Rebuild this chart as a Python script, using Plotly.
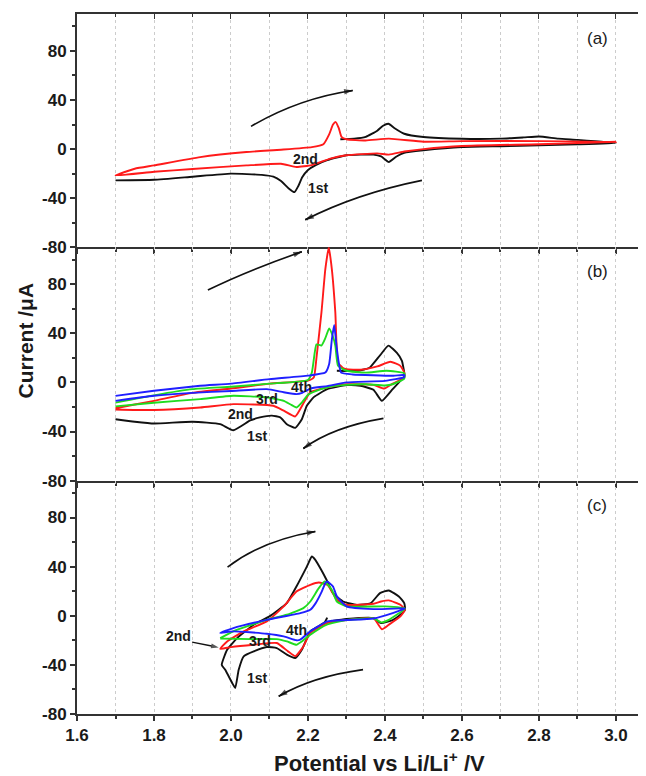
import plotly.graph_objects as go
from plotly.subplots import make_subplots

FONT = "Arial, Liberation Sans, sans-serif"

# ---------------- data (potential V, current uA) ----------------
# panel (a)
A1_V = [2.284, 2.32, 2.35, 2.38, 2.395, 2.409, 2.425, 2.45, 2.5, 2.6, 2.7, 2.76, 2.8, 2.85, 2.9, 3.0,
        2.9, 2.8, 2.7, 2.6, 2.5, 2.45, 2.43, 2.41, 2.39, 2.37, 2.3, 2.25, 2.22, 2.2, 2.185, 2.175,
        2.165, 2.15, 2.13, 2.11, 2.08, 2.0, 1.9, 1.8, 1.7]
A1_I = [8, 8.5, 10, 15, 19, 20.6, 17, 12.5, 9.8, 8.4, 8.5, 9.5, 10.3, 8.5, 7.5, 5,
        3.8, 3, 2.3, 1.6, -1, -3, -6, -10.5, -6, -4.5, -5, -9, -13, -17, -23, -30,
        -35, -32, -26, -22.5, -21, -20, -22.5, -25, -25.5]
A2_V = [1.7, 1.75, 1.8, 1.92, 2.04, 2.13, 2.21, 2.24, 2.255, 2.265, 2.272, 2.28, 2.287, 2.3, 2.35,
        2.41, 2.5, 2.6, 2.8, 3.0,
        2.8, 2.6, 2.5, 2.45, 2.41, 2.38, 2.3, 2.258, 2.21, 2.17, 2.13, 2.04, 1.9, 1.8, 1.7]
A2_I = [-21.5, -16, -13.3, -6.5, -2.4, -0.5, 1.6, 4, 12, 20, 22, 17, 10, 8, 7,
        8.5, 6, 6.5, 6.5, 6,
        4, 2.5, 0, -2, -4.5, -3.5, -5, -7.8, -13, -14.6, -12, -13.3, -16.2, -18.5, -21.5]

# panel (b)
B1_V = [2.275, 2.33, 2.36, 2.387, 2.409, 2.431, 2.444, 2.45, 2.45, 2.42, 2.392, 2.37, 2.336, 2.3,
        2.25, 2.215, 2.197, 2.184, 2.167, 2.145, 2.128, 2.106, 2.075, 2.05, 2.006, 1.972, 1.9,
        1.8, 1.75, 1.7]
B1_I = [9.5, 9.5, 12, 22, 30, 24, 17.6, 8, 5, -5.5, -15, -6, -2.7, -2.2,
        -5.5, -12, -19, -30, -37, -34, -28.5, -27, -28.5, -31, -39, -34, -32,
        -33.5, -32, -30]
B2_V = [1.7, 1.75, 1.8, 1.9, 2.0, 2.1, 2.2, 2.215, 2.222, 2.235, 2.245, 2.254, 2.262, 2.271, 2.278,
        2.29, 2.3, 2.336, 2.38, 2.414, 2.44, 2.45,
        2.45, 2.42, 2.398, 2.37, 2.3, 2.25, 2.206, 2.19, 2.167, 2.137, 2.11, 2.006, 1.92, 1.8, 1.7]
B2_I = [-21, -18, -15, -8.5, -5, -1, 1.5, 4, 20, 57, 92, 110, 92, 57, 16,
        12, 10.8, 10.3, 13, 16.8, 13.5, 8,
        4, -1, -5, -2, -1.5, -4, -8, -16, -27.7, -23, -19, -17.7, -20.4, -22.5, -22]
B3_V = [1.7, 1.8, 1.9, 2.0, 2.1, 2.2, 2.21, 2.214, 2.222, 2.235, 2.245, 2.255, 2.264, 2.271, 2.278,
        2.3, 2.35, 2.404, 2.45,
        2.45, 2.42, 2.4, 2.35, 2.3, 2.25, 2.22, 2.2, 2.185, 2.17, 2.155, 2.137, 2.093, 2.006, 1.92,
        1.8, 1.7]
B3_I = [-16.5, -10.5, -5.5, -3.5, -1, 2, 8, 16, 31, 30, 36, 44, 38, 30, 13.5,
        9.5, 8, 9.5, 7.5,
        3, -1.5, -2.5, -1.5, -2, -4, -7, -10, -16, -20.4, -18, -15, -12.2, -10.9, -13.6,
        -16.5, -19.5]
B4_V = [1.7, 1.8, 1.92, 2.0, 2.1, 2.2, 2.245, 2.255, 2.262, 2.268, 2.274, 2.28, 2.286, 2.316, 2.422,
        2.45,
        2.45, 2.4, 2.3, 2.25, 2.206, 2.185, 2.17, 2.137, 2.093, 2.0, 1.9, 1.8, 1.7]
B4_I = [-11, -6.8, -2.7, -1, 2.7, 5.5, 8, 15, 35, 46.7, 30, 16, 8, 6.5, 5.4,
        6,
        4.3, 1.3, 0, -3, -5, -8.5, -9.5, -8, -5.5, -7, -8.5, -10.9, -15]

# panel (c)
C1_V = [2.25, 2.243, 2.225, 2.206, 2.195, 2.184, 2.167, 2.145, 2.119, 2.093, 2.059, 2.033, 2.02,
        2.011, 2.003, 1.985, 1.976,
        1.99, 2.016, 2.059, 2.1, 2.145, 2.17, 2.197, 2.21, 2.219, 2.235, 2.248, 2.265, 2.291,
        2.327, 2.362, 2.387, 2.41, 2.436, 2.45,
        2.452, 2.44, 2.42, 2.39, 2.37, 2.3, 2.26]
C1_I = [-1.5, -5.5, -9, -12.7, -20, -27.7, -34.4, -31.7, -26.3, -25.5, -29, -33, -44,
        -58.8, -54.7, -44, -40,
        -27.7, -18.2, -7.3, -0.5, 10.3, 23.8, 40, 48.2, 45.5, 37, 29.3, 18.4, 11.6,
        8.9, 10, 18.4, 20.6, 15.7, 10.3,
        4.9, 0.8, -3.5, -6, -1.9, -2.7, -4.5]
C2_V = [1.972, 1.99, 2.033, 2.093, 2.137, 2.17, 2.206, 2.228, 2.251, 2.262, 2.275, 2.3, 2.37,
        2.39, 2.41, 2.44, 2.452,
        2.44, 2.41, 2.392, 2.37, 2.3, 2.249, 2.206, 2.188, 2.167, 2.148, 2.119, 2.059, 2.0, 1.972]
C2_I = [-27, -20.9, -12.7, -4.6, 7.6, 19.8, 25.2, 27.1, 25, 19.8, 13, 8.9, 9.8,
        11.6, 12.5, 9, 5,
        -0.5, -7.3, -11, -2, -3.5, -6, -14, -25, -33, -29, -22.2, -23.6, -25.5, -27]
C3_V = [1.972, 2.006, 2.093, 2.145, 2.188, 2.206, 2.228, 2.243, 2.262, 2.275, 2.3, 2.4, 2.452,
        2.41, 2.39, 2.37, 2.3, 2.249, 2.206, 2.184, 2.17, 2.145, 2.119, 2.05, 1.972]
C3_I = [-18.2, -12.7, -3.3, 0.8, 6.2, 11.6, 22.5, 27.9, 21, 11.6, 7.6, 7.6, 6,
        -3.3, -5.4, -2, -3.5, -7.3, -15.5, -20.9, -23.6, -20.9, -19, -19, -18.5]
C4_V = [1.972, 2.006, 2.093, 2.18, 2.206, 2.22, 2.236, 2.245, 2.25, 2.265, 2.275, 2.3, 2.37, 2.44,
        2.452, 2.42, 2.37, 2.3, 2.25, 2.206, 2.18, 2.17, 2.137, 2.093, 2.006, 1.972]
C4_I = [-14.1, -10, -3.3, 2.2, 4.9, 10.3, 19.8, 26.6, 27.9, 23.8, 15.7, 7.6, 5.4, 6,
        6, 2.2, -2.2, -3.5, -4.6, -12.7, -19.5, -20, -16.8, -14.6, -12.7, -14.1]

Y_TICKS = [-80, -40, 0, 40, 80]
Y_TICK_TEXT = ["-80", "-40", "0", "40", "80"]
PANEL_LETTERS = ["(a)", "(b)", "(c)"]

BLACK, RED, GREEN, BLUE = "#111111", "#ff1a1a", "#1fdc1f", "#1f1fff"

series = [
    (1, A1_V, A1_I, BLACK), (1, A2_V, A2_I, RED),
    (2, B1_V, B1_I, BLACK), (2, B2_V, B2_I, RED), (2, B3_V, B3_I, GREEN), (2, B4_V, B4_I, BLUE),
    (3, C1_V, C1_I, BLACK), (3, C2_V, C2_I, RED), (3, C3_V, C3_I, GREEN), (3, C4_V, C4_I, BLUE),
]

fig = make_subplots(rows=3, cols=1, shared_xaxes=True, vertical_spacing=0)

for row, v, i, col in series:
    fig.add_trace(go.Scatter(x=v, y=i, mode="lines",
                             line=dict(color=col, width=1.9, shape="spline", smoothing=0.45),
                             showlegend=False, hoverinfo="skip"), row=row, col=1)

XR = [1.6, 3.078]
AXC = "#333333"
tickfont = dict(family=FONT, size=17, color="#1a1a1a", weight="bold")

for r in (1, 2, 3):
    fig.update_xaxes(range=XR, tick0=1.6, dtick=0.2, ticks="outside", ticklen=5, tickwidth=1.5,
                     tickcolor=AXC, showline=True, linecolor=AXC, linewidth=2,
                     showgrid=True, gridcolor="#cccccc", griddash="dot", gridwidth=1,
                     minor=dict(dtick=0.1, tick0=1.6, ticks="outside", ticklen=3, tickcolor=AXC,
                                showgrid=True, gridcolor="#cccccc", griddash="dot", gridwidth=1),
                     zeroline=False, showticklabels=(r == 3), tickfont=tickfont,
                     tickformat=".1f", row=r, col=1)
    fig.update_yaxes(range=[-80, 110], tickvals=Y_TICKS, ticktext=Y_TICK_TEXT, ticks="outside",
                     ticklen=5, tickwidth=1.5,
                     tickcolor=AXC, showline=True, linecolor=AXC, linewidth=2, showgrid=False,
                     minor=dict(dtick=20, tick0=-80, ticks="outside", ticklen=3, tickcolor=AXC),
                     zeroline=False, tickfont=tickfont, row=r, col=1)

# top frame line of panel (a) with inward ticks
fig.add_trace(go.Scatter(x=[XR[0]], y=[0], xaxis="x4", yaxis="y", mode="markers",
                         marker=dict(opacity=0), showlegend=False, hoverinfo="skip"))
fig.update_layout(xaxis4=dict(overlaying="x", anchor="y", side="top", range=XR, tick0=1.6, dtick=0.2,
                              ticks="inside", ticklen=5, tickcolor=AXC, showline=True, linecolor=AXC,
                              linewidth=2, showgrid=False, showticklabels=False, zeroline=False,
                              minor=dict(dtick=0.1, tick0=1.6, ticks="inside", ticklen=3,
                                         tickcolor=AXC)))

# curve labels
labels = [
    (1, 2.194, -8.4, "2nd"), (1, 2.227, -32, "1st"),
    (2, 2.184, -4.1, "4th"), (2, 2.093, -13.6, "3rd"), (2, 2.024, -25.8, "2nd"), (2, 2.068, -43.5, "1st"),
    (3, 2.171, -11.4, "4th"), (3, 2.076, -20.9, "3rd"), (3, 1.864, -16.3, "2nd"), (3, 2.068, -50.7, "1st"),
]
ax_names = {1: ("x", "y"), 2: ("x2", "y2"), 3: ("x3", "y3")}
for row, x, y, t in labels:
    xr, yr = ax_names[row]
    fig.add_annotation(x=x, y=y, xref=xr, yref=yr, text=t, showarrow=False,
                       font=dict(family=FONT, size=14, color="#1a1a1a", weight="bold"))

for row, t in zip((1, 2, 3), PANEL_LETTERS):
    xr, yr = ax_names[row]
    fig.add_annotation(x=2.951, y=90, xref=xr, yref=yr, text=t, showarrow=False,
                       font=dict(family=FONT, size=17, color="#1a1a1a"))


def arrow_head(row, tail, head, size=9, width=1.6):
    xr, yr = ax_names[row]
    fig.add_trace(go.Scatter(x=[tail[0], head[0]], y=[tail[1], head[1]], mode="lines+markers",
                             xaxis=xr, yaxis=yr,
                             line=dict(color="#111111", width=width),
                             marker=dict(symbol="arrow", angleref="previous", size=[0, size],
                                         color="#111111", line=dict(width=0)),
                             showlegend=False, hoverinfo="skip"))


# curved direction arrows: (row, start, control, end)
arrows = [
    (1, (2.052, 18.5), (2.176, 41.3), (2.316, 47.7)),
    (1, (2.496, -25.5), (2.327, -36.2), (2.193, -57.6)),
    (2, (1.94, 75.2), (2.038, 90.5), (2.184, 106.4)),
    (2, (2.396, -29.3), (2.265, -36.2), (2.188, -53.8)),
    (3, (1.991, 39.6), (2.082, 61.4), (2.219, 68.6)),
    (3, (2.343, -43.9), (2.213, -49.4), (2.124, -65.6)),
]
for row, s, c, e in arrows:
    xr, yr = ax_names[row]
    fig.add_shape(type="path", xref=xr, yref=yr,
                  path=f"M {s[0]},{s[1]} Q {c[0]},{c[1]} {e[0]},{e[1]}",
                  line=dict(color="#111111", width=1.6))
    tail = (e[0] + 0.12 * (c[0] - e[0]), e[1] + 0.12 * (c[1] - e[1]))
    arrow_head(row, tail, e)

# pointer arrow for "2nd" in panel (c)
arrow_head(3, (1.899, -21.4), (1.968, -25.8), size=8, width=1.3)

# axis titles
fig.add_annotation(x=-0.091, y=0.534, xref="paper", yref="paper", text="Current /μA", textangle=-90,
                   xanchor="center", yanchor="middle", showarrow=False,
                   font=dict(family=FONT, size=21, color="#1a1a1a", weight="bold"))
fig.add_annotation(x=0.5325, y=-0.068, xref="paper", yref="paper",
                   text="Potential vs Li/Li<sup>+</sup> /V", xanchor="center", yanchor="middle",
                   showarrow=False,
                   font=dict(family=FONT, size=22, color="#1a1a1a", weight="bold"))

# page body keeps an 8 px default margin, so the figure is offset by 8 px
fig.update_layout(width=638, height=768, margin=dict(l=69, r=0, t=6, b=62),
                  plot_bgcolor="white", paper_bgcolor="white", showlegend=False)

fig.write_html("out.html")
